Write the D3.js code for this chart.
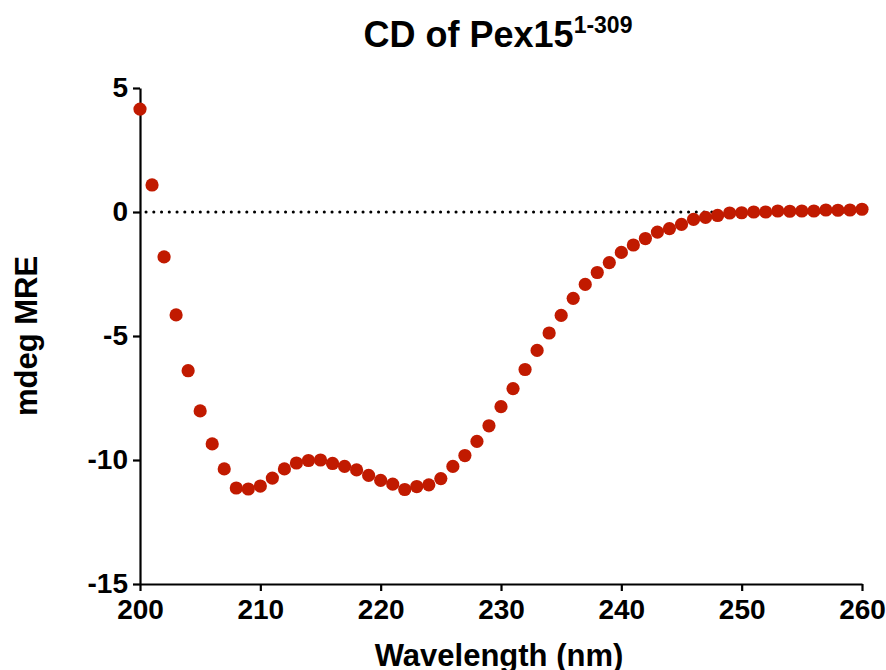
<!DOCTYPE html>
<html>
<head>
<meta charset="utf-8">
<script src="https://cdn.jsdelivr.net/npm/d3@7"></script>
<style>
  body { margin: 0; background: #fff; }
  text { font-family: "Liberation Sans", Arial, sans-serif; font-weight: bold; fill: #000; }
</style>
</head>
<body>
<div id="chart"></div>
<script>
// CD spectrum values
const wavelengths = d3.range(200, 261);
const mre = [
  4.15, 1.09, -1.81, -4.15, -6.40, -8.02, -9.35, -10.36, -11.13, -11.17,
  -11.05, -10.73, -10.36, -10.12, -10.02, -10.00, -10.14, -10.26, -10.40, -10.62,
  -10.82, -10.97, -11.19, -11.07, -11.00, -10.75, -10.26, -9.82, -9.25, -8.62,
  -7.85, -7.12, -6.35, -5.58, -4.88, -4.17, -3.48, -2.92, -2.44, -2.04,
  -1.63, -1.33, -1.07, -0.81, -0.67, -0.50, -0.30, -0.22, -0.14, -0.04,
  -0.03, 0.00, 0.00, 0.04, 0.03, 0.04, 0.04, 0.08, 0.07, 0.08, 0.11
];
const xTicks = [200, 210, 220, 230, 240, 250, 260];
const yTicks = [5, 0, -5, -10, -15];

const width = 886, height = 670;
const margin = {top: 88, right: 24, bottom: 86, left: 140};

const svg = d3.select("#chart")
    .append("svg")
    .attr("width", width)
    .attr("height", height);

const x = d3.scaleLinear().domain([200, 260]).range([margin.left, width - margin.right]);
const y = d3.scaleLinear().domain([-15, 5]).range([height - margin.bottom, margin.top]);

// plain hyphen for negatives, like the original
const fmt = function (d) { return String(d); };

// axes
const xAxis = svg.append("g")
    .attr("transform", `translate(0,${y(-15)})`)
    .call(d3.axisBottom(x).tickValues(xTicks).tickFormat(fmt).tickSize(7).tickSizeOuter(0).tickPadding(8));
const yAxis = svg.append("g")
    .attr("transform", `translate(${x(200)},0)`)
    .call(d3.axisLeft(y).tickValues(yTicks).tickFormat(fmt).tickSize(7).tickSizeOuter(0).tickPadding(5));

[xAxis, yAxis].forEach(function (g) {
    g.select(".domain").attr("stroke", "#000").attr("stroke-width", 2.2);
    g.selectAll(".tick line").attr("stroke", "#000").attr("stroke-width", 2.2);
    g.selectAll(".tick text")
        .attr("font-family", "Liberation Sans, Arial, sans-serif")
        .attr("font-weight", "bold")
        .attr("font-size", 28)
        .attr("fill", "#000");
});

// zero line (dotted)
svg.append("line")
    .attr("x1", x(200) + 6)
    .attr("x2", x(260))
    .attr("y1", y(0))
    .attr("y2", y(0))
    .attr("stroke", "#000")
    .attr("stroke-width", 3)
    .attr("stroke-linecap", "round")
    .attr("stroke-dasharray", "0.1 7.65");

// points
svg.append("g")
    .selectAll("circle")
    .data(wavelengths)
    .enter().append("circle")
    .attr("cx", function (d) { return x(d); })
    .attr("cy", function (d, i) { return y(mre[i]); })
    .attr("r", 6.6)
    .attr("fill", "#c11a00");

// title
const title = svg.append("text")
    .attr("x", 498)
    .attr("y", 47)
    .attr("text-anchor", "middle")
    .attr("font-size", 36);
title.append("tspan").text("CD of Pex15");
title.append("tspan").attr("font-size", 23).attr("dy", -14).text("1-309");

// axis labels
svg.append("text")
    .attr("x", 499)
    .attr("y", 666)
    .attr("text-anchor", "middle")
    .attr("font-size", 31)
    .text("Wavelength (nm)");

svg.append("text")
    .attr("transform", `translate(37,${(y(5) + y(-15)) / 2}) rotate(-90)`)
    .attr("text-anchor", "middle")
    .attr("font-size", 31)
    .text("mdeg MRE");
</script>
</body>
</html>
